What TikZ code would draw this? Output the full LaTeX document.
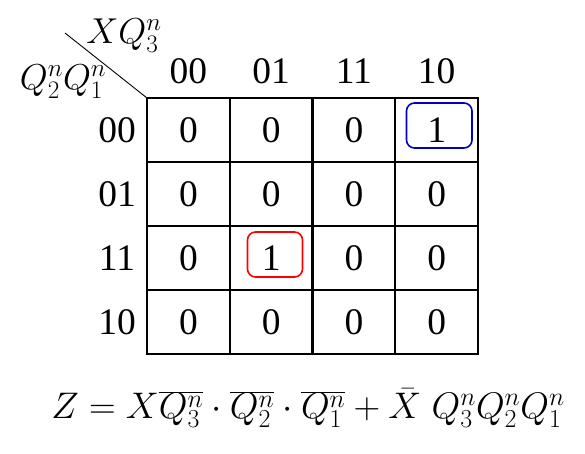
\RequirePackage{fix-cm}
\documentclass[tikz,border=0pt]{standalone}
\usepackage{fontspec}
\setmainfont{Liberation Serif}
\begin{document}
\begin{tikzpicture}[x=1pt,y=-1pt,
  txt/.style={inner sep=0pt,font=\fontsize{37.5}{42}\selectfont},
  grid/.style={line width=2.2pt,line cap=rect},
  loop/.style={line width=1.6pt,rounded corners=8pt},
  lbl/.style={inner sep=0pt,font=\fontsize{36}{42}\selectfont}]
\useasboundingbox (0,0) rectangle (585,453);
% grid
\foreach \i in {0,...,4} {
  \draw[grid] (147+\i*82.75,98) -- (147+\i*82.75,354);
  \draw[grid] (147,98+\i*64) -- (478,98+\i*64);
}
% diagonal
\coordinate (d1) at (65,33);
\coordinate (d2) at (147,98);
\draw[line width=0.9pt] (d1) -- (d2);
\node[lbl] (top) at (124,36) {$XQ_3^n$};
\node[lbl] (left) at (63,82) {$Q_2^nQ_1^n$};
% column headers
\foreach \t [count=\k from 0] in {00,01,11,10}
  \node[txt] (h\k) at (188.4+\k*82.75,71) {\t};
% row headers
\foreach \t [count=\k from 0] in {00,01,11,10}
  \node[txt] (r\k) at (117,130+\k*64) {\t};
% cells
\foreach \row/\vals in {0/{0,0,0,1},1/{0,0,0,0},2/{0,1,0,0},3/{0,0,0,0}}
  \foreach \v [count=\c from 0] in \vals
    \node[txt] (c\row\c) at (188.4+\c*82.75,130+\row*64) {\v};
% loops
\draw[loop,draw={rgb,255:red,0;green,0;blue,190}] (406.5,103) rectangle (472,148);
\draw[loop,draw=red] (247.5,232) rectangle (302.5,277);
% formula
\node[inner sep=0pt,font=\fontsize{37}{44}\selectfont] (f) at (308,408)
  {$Z = X\overline{Q_3^n}\cdot\overline{Q_2^n}\cdot\overline{Q_1^n} + \bar{X}\; Q_3^nQ_2^nQ_1^n$};
\end{tikzpicture}
\end{document}
